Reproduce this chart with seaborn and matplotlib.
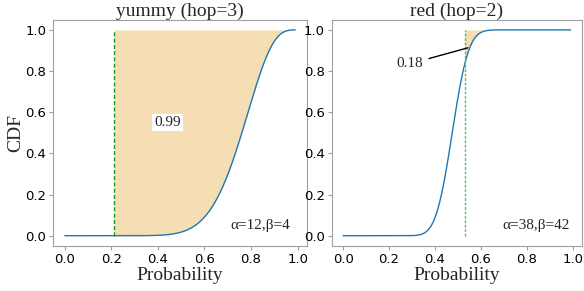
import math
import numpy as np
import pandas as pd
import matplotlib
matplotlib.use('Agg')
import matplotlib.pyplot as plt
import seaborn as sns

# Parameter der beiden Beta-Verteilungen
titles = ['yummy (hop=3)', 'red (hop=2)']
alphas = [12, 38]
betas = [4, 42]
thresholds = [0.213, 0.529]
area_labels = ['0.99', '0.18']
param_labels = ['α=12,β=4', 'α=38,β=42']


def beta_cdf(x, a, b):
    grid = np.linspace(0, 1, 20001)
    logb = math.lgamma(a) + math.lgamma(b) - math.lgamma(a + b)
    with np.errstate(divide='ignore'):
        pdf = np.exp((a - 1) * np.log(grid) + (b - 1) * np.log1p(-grid) - logb)
    pdf[~np.isfinite(pdf)] = 0
    cdf = np.concatenate([[0], np.cumsum((pdf[1:] + pdf[:-1]) / 2 * np.diff(grid))])
    return np.interp(x, grid, cdf)


sns.set_style('ticks')
plt.rcParams['font.family'] = ['Liberation Serif', 'DejaVu Serif']
plt.rcParams['axes.edgecolor'] = '#a0a0a0'
plt.rcParams['xtick.color'] = '#a0a0a0'
plt.rcParams['ytick.color'] = '#a0a0a0'
plt.rcParams['xtick.labelcolor'] = 'black'
plt.rcParams['ytick.labelcolor'] = 'black'

fig = plt.figure(figsize=(5.84, 2.91), dpi=100)
ax1 = fig.add_axes([0.0913, 0.1546, 0.434, 0.778])
ax2 = fig.add_axes([0.568, 0.1546, 0.4286, 0.778])
axes = [ax1, ax2]

x = np.linspace(0, 0.99, 600)
vcolors = ['#1a9a1a', '#5cb85c']
vstyles = [(0, (3, 1.5)), (0, (2, 1.2))]

for i, ax in enumerate(axes):
    y = beta_cdf(x, alphas[i], betas[i])
    df = pd.DataFrame({'Probability': x, 'CDF': y})
    sns.lineplot(data=df, x='Probability', y='CDF', ax=ax, color='#1f77b4', linewidth=1.0)
    mask = x >= thresholds[i]
    ax.fill_between(x[mask], y[mask], 1, color='wheat', linewidth=0)
    ax.vlines(thresholds[i], 0, 1, colors=vcolors[i], linestyles=vstyles[i], linewidth=1.0)
    ax.set_title(titles[i], fontsize=14, pad=2)
    ax.set_xlabel('Probability', fontsize=14, labelpad=1)
    ax.set_ylabel('CDF' if i == 0 else '', fontsize=14, labelpad=1)
    ax.set_xticks([0, 0.2, 0.4, 0.6, 0.8, 1.0])
    ax.set_yticks([0, 0.2, 0.4, 0.6, 0.8, 1.0])
    for lab in ax.get_xticklabels() + ax.get_yticklabels():
        lab.set_family('DejaVu Sans')
        lab.set_fontsize(9.5)
    ax.tick_params(length=3, width=0.8, pad=2)
    ax.text(0.84, 0.05, param_labels[i], fontsize=11, ha='center', va='center')

ax1.text(0.44, 0.55, area_labels[0], fontsize=11, ha='center', va='center',
         bbox=dict(facecolor='white', edgecolor='none', pad=1.5))
ax2.annotate(area_labels[1], xy=(0.543, 0.913), xytext=(0.29, 0.835), fontsize=11,
             ha='center', va='center',
             arrowprops=dict(arrowstyle='-', color='black', linewidth=1.0, shrinkA=2, shrinkB=0))

fig.savefig('out.png', dpi=100)
